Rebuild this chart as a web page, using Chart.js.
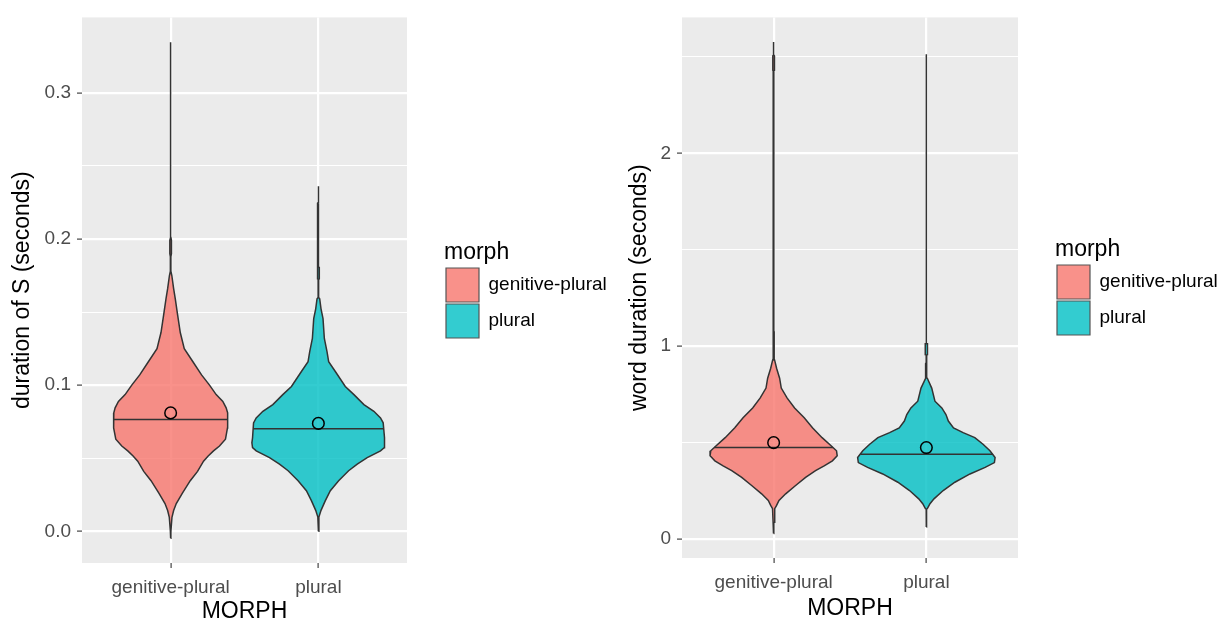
<!DOCTYPE html>
<html>
<head>
<meta charset="utf-8">
<title>Violin plots</title>
<script src="https://cdn.jsdelivr.net/npm/chart.js@4.4.1/dist/chart.umd.min.js"></script>
<style>
  body { margin: 0; background: #ffffff; width: 1225px; height: 623px; overflow: hidden; position: relative; }
  canvas { position: absolute; top: 0; }
  #sChart { left: 0; }
  #wChart { left: 612px; }
</style>
</head>
<body>
<canvas id="sChart" width="612" height="623"></canvas>
<canvas id="wChart" width="613" height="623"></canvas>
<script>
// categories
const morphs = ['genitive-plural', 'plural'];

// duration of S: violin outline (value levels, scaled density 0..1)
const sGenLevels = [-0.0047, 0.0, 0.0095, 0.0142, 0.019, 0.026, 0.0346, 0.041, 0.048, 0.0515, 0.055, 0.0583, 0.063, 0.0707, 0.0766, 0.081, 0.0845, 0.0888, 0.0935, 0.100, 0.107, 0.116, 0.125, 0.136, 0.148, 0.159, 0.166, 0.175, 0.178, 0.188, 0.190, 0.199, 0.201, 0.334, 0.3346];
const sGenDens = [0, 0.004, 0.02, 0.045, 0.085, 0.175, 0.295, 0.405, 0.495, 0.565, 0.645, 0.735, 0.825, 0.855, 0.86, 0.855, 0.835, 0.785, 0.685, 0.585, 0.465, 0.335, 0.205, 0.145, 0.105, 0.07, 0.045, 0.018, 0.004, 0.004, 0.012, 0.012, 0.004, 0.004, 0];
const sPlLevels = [0.0, 0.0097, 0.0143, 0.021, 0.0278, 0.0346, 0.0414, 0.046, 0.0504, 0.055, 0.0572, 0.0605, 0.064, 0.0742, 0.0776, 0.0821, 0.0867, 0.0935, 0.0991, 0.1093, 0.116, 0.1229, 0.1319, 0.1455, 0.1522, 0.159, 0.160, 0.1726, 0.1727, 0.1806, 0.1807, 0.2247, 0.2248, 0.2360];
const sPlDens = [0, 0.008, 0.04, 0.105, 0.18, 0.305, 0.455, 0.585, 0.735, 0.935, 0.99, 1.0, 0.99, 0.975, 0.935, 0.835, 0.685, 0.535, 0.405, 0.255, 0.155, 0.13, 0.09, 0.07, 0.04, 0.02, 0.004, 0.004, 0.014, 0.014, 0.008, 0.008, 0.004, 0];
const sMedians = [0.0765, 0.0701];
const sMeans = [0.081, 0.0738];
const sMajorTicks = [0, 0.1, 0.2, 0.3];
const sMajorLabels = ['0.0', '0.1', '0.2', '0.3'];
const sMinorTicks = [0.05, 0.15, 0.25];

// word duration
const wGenLevels = [0.0297, 0.03, 0.087, 0.088, 0.158, 0.175, 0.2005, 0.235, 0.278, 0.320, 0.355, 0.380, 0.406, 0.432, 0.458, 0.483, 0.526, 0.577, 0.629, 0.680, 0.732, 0.783, 0.834, 0.886, 0.929, 0.935, 1.075, 1.08, 2.428, 2.43, 2.505, 2.51, 2.577];
const wGenDens = [0, 0.003, 0.003, 0.008, 0.016, 0.043, 0.078, 0.175, 0.32, 0.465, 0.61, 0.735, 0.855, 0.925, 0.915, 0.84, 0.705, 0.565, 0.445, 0.305, 0.195, 0.111, 0.087, 0.043, 0.014, 0.008, 0.008, 0.003, 0.003, 0.012, 0.012, 0.003, 0];
const wPlLevels = [0.063, 0.064, 0.157, 0.158, 0.1835, 0.209, 0.252, 0.295, 0.338, 0.372, 0.397, 0.423, 0.458, 0.492, 0.526, 0.552, 0.577, 0.612, 0.646, 0.680, 0.715, 0.783, 0.834, 0.835, 0.912, 0.913, 0.955, 0.956, 1.013, 1.014, 2.513, 2.514];
const wPlDens = [0, 0.003, 0.003, 0.014, 0.053, 0.111, 0.245, 0.415, 0.635, 0.855, 0.99, 1.0, 0.925, 0.825, 0.705, 0.535, 0.395, 0.32, 0.285, 0.225, 0.125, 0.078, 0.014, 0.008, 0.008, 0.003, 0.003, 0.016, 0.016, 0.003, 0.003, 0];
const wMedians = [0.4747, 0.4404];
const wMeans = [0.5003, 0.4747];
const wMajorTicks = [0, 1, 2];
const wMajorLabels = ['0', '1', '2'];
const wMinorTicks = [0.5, 1.5, 2.5];

const fills = ['rgba(248,118,109,0.8)', 'rgba(0,191,196,0.8)'];
const HALF_WIDTH = 0.45; // widest violin spans 0.9 of a category

Chart.defaults.font.family = '"Liberation Sans", Arial, sans-serif';

function violinPoints(center, levels, dens) {
    const right = levels.map((y, i) => ({x: center + dens[i] * HALF_WIDTH, y: y}));
    const left = levels.map((y, i) => ({x: center - dens[i] * HALF_WIDTH, y: y})).reverse();
    return right.concat(left);
}

function densAt(levels, dens, v) {
    for (let i = 1; i < levels.length; i++) {
        if (v <= levels[i]) {
            const t = (v - levels[i - 1]) / (levels[i] - levels[i - 1]);
            return dens[i - 1] + t * (dens[i] - dens[i - 1]);
        }
    }
    return 0;
}

const panelBg = {
    id: 'panelBg',
    beforeDraw(chart) {
        const {ctx, chartArea: a} = chart;
        ctx.save();
        ctx.fillStyle = '#EBEBEB';
        ctx.fillRect(a.left, a.top, a.right - a.left, a.bottom - a.top);
        ctx.restore();
    }
};

// keep the legend box at a fixed width so it sits where ggplot put it
function fixedLegend(width) {
    return {
        id: 'fixedLegend',
        afterInit(chart) {
            const lg = chart.legend;
            const fit = lg.fit.bind(lg);
            lg.fit = function() {
                fit();
                this.width = width;
            };
        }
    };
}

function violinChart(id, s) {
    const isMajor = v => s.major.some(m => Math.abs(m - v) < 1e-9);
    const datasets = [];

    s.groups.forEach((g, i) => {
        datasets.push({
            label: morphs[i],
            data: violinPoints(i + 1, g.levels, g.dens),
            fill: 'shape',
            backgroundColor: fills[i],
            borderColor: '#333333',
            borderWidth: 1.5,
            pointRadius: 0,
            tension: 0,
            order: 3
        });
    });

    s.groups.forEach((g, i) => {
        const hw = densAt(g.levels, g.dens, g.median) * HALF_WIDTH;
        datasets.push({
            label: 'median',
            data: [{x: i + 1 - hw, y: g.median}, {x: i + 1 + hw, y: g.median}],
            fill: false,
            borderColor: '#333333',
            borderWidth: 1.5,
            pointRadius: 0,
            order: 2
        });
    });

    datasets.push({
        label: 'mean',
        data: s.groups.map((g, i) => ({x: i + 1, y: g.mean})),
        showLine: false,
        pointRadius: 5.8,
        pointBorderColor: '#000000',
        pointBorderWidth: 1.5,
        pointBackgroundColor: 'rgba(0,0,0,0)',
        order: 1
    });

    return new Chart(document.getElementById(id), {
        type: 'line',
        data: {datasets: datasets},
        plugins: [panelBg, fixedLegend(s.legendWidth)],
        options: {
            responsive: false,
            animation: false,
            events: [],
            layout: {padding: {top: 13, left: 0, right: 0, bottom: 0}},
            scales: {
                x: {
                    type: 'linear',
                    min: 0.4,
                    max: 2.6,
                    afterBuildTicks: sc => { sc.ticks = morphs.map((m, i) => ({value: i + 1})); },
                    afterFit: sc => { sc.height = s.xAxisHeight; },
                    ticks: {
                        autoSkip: false,
                        maxRotation: 0,
                        padding: 8,
                        color: '#4D4D4D',
                        font: {size: 19},
                        callback: v => morphs[Math.round(v) - 1]
                    },
                    grid: {color: '#FFFFFF', lineWidth: 2.2, tickColor: '#333333', tickLength: 5, tickWidth: 1.1},
                    border: {display: false},
                    title: {display: true, text: 'MORPH', color: '#000000', font: {size: 23, lineHeight: 1}, padding: {top: 0, bottom: s.xTitlePad}}
                },
                y: {
                    type: 'linear',
                    min: s.yMin,
                    max: s.yMax,
                    afterBuildTicks: sc => { sc.ticks = s.major.concat(s.minor).sort((a, b) => a - b).map(v => ({value: v})); },
                    afterFit: sc => { sc.width = s.yAxisWidth; },
                    ticks: {
                        autoSkip: false,
                        padding: 6,
                        color: '#4D4D4D',
                        font: {size: 19},
                        callback: v => {
                            const k = s.major.findIndex(m => Math.abs(m - v) < 1e-9);
                            return k >= 0 ? s.majorLabels[k] : '';
                        }
                    },
                    grid: {
                        color: '#FFFFFF',
                        lineWidth: c => (c.tick && isMajor(c.tick.value)) ? 2.2 : 1.1,
                        tickColor: c => (c.tick && isMajor(c.tick.value)) ? '#333333' : 'rgba(0,0,0,0)',
                        tickLength: 5,
                        tickWidth: 1.1
                    },
                    border: {display: false},
                    title: {display: true, text: s.yTitle, color: '#000000', font: {size: 23, lineHeight: 1}, padding: {top: s.yTitlePad, bottom: 0}}
                },
                gap: {
                    type: 'linear',
                    position: 'right',
                    display: true,
                    grid: {display: false},
                    ticks: {display: false},
                    border: {display: false},
                    afterFit: sc => { sc.width = 37; }
                }
            },
            plugins: {
                tooltip: {enabled: false},
                legend: {
                    position: 'right',
                    align: 'start',
                    title: {
                        display: true,
                        text: 'morph',
                        position: 'start',
                        color: '#000000',
                        font: {size: 23, lineHeight: 1},
                        padding: {top: s.legendTop, bottom: 2}
                    },
                    labels: {
                        boxWidth: 33,
                        boxHeight: 34,
                        padding: 2,
                        color: '#000000',
                        font: {size: 19},
                        generateLabels: () => morphs.map((m, i) => ({
                            text: m,
                            fillStyle: fills[i],
                            strokeStyle: '#555555',
                            lineWidth: 1.2,
                            hidden: false,
                            datasetIndex: i
                        }))
                    }
                }
            }
        }
    });
}

violinChart('sChart', {
    groups: [
        {levels: sGenLevels, dens: sGenDens, median: sMedians[0], mean: sMeans[0]},
        {levels: sPlLevels, dens: sPlDens, median: sMedians[1], mean: sMeans[1]}
    ],
    major: sMajorTicks,
    majorLabels: sMajorLabels,
    minor: sMinorTicks,
    yMin: -0.0217,
    yMax: 0.3516,
    yTitle: 'duration of S (seconds)',
    yAxisWidth: 82,
    yTitlePad: 11,
    xAxisHeight: 60,
    xTitlePad: 0,
    legendWidth: 168,
    legendTop: 228
});

violinChart('wChart', {
    groups: [
        {levels: wGenLevels, dens: wGenDens, median: wMedians[0], mean: wMeans[0]},
        {levels: wPlLevels, dens: wPlDens, median: wMedians[1], mean: wMeans[1]}
    ],
    major: wMajorTicks,
    majorLabels: wMajorLabels,
    minor: wMinorTicks,
    yMin: -0.0977,
    yMax: 2.7044,
    yTitle: 'word duration (seconds)',
    yAxisWidth: 70,
    yTitlePad: 16.5,
    xAxisHeight: 65,
    xTitlePad: 3,
    legendWidth: 170,
    legendTop: 225
});
</script>
</body>
</html>
